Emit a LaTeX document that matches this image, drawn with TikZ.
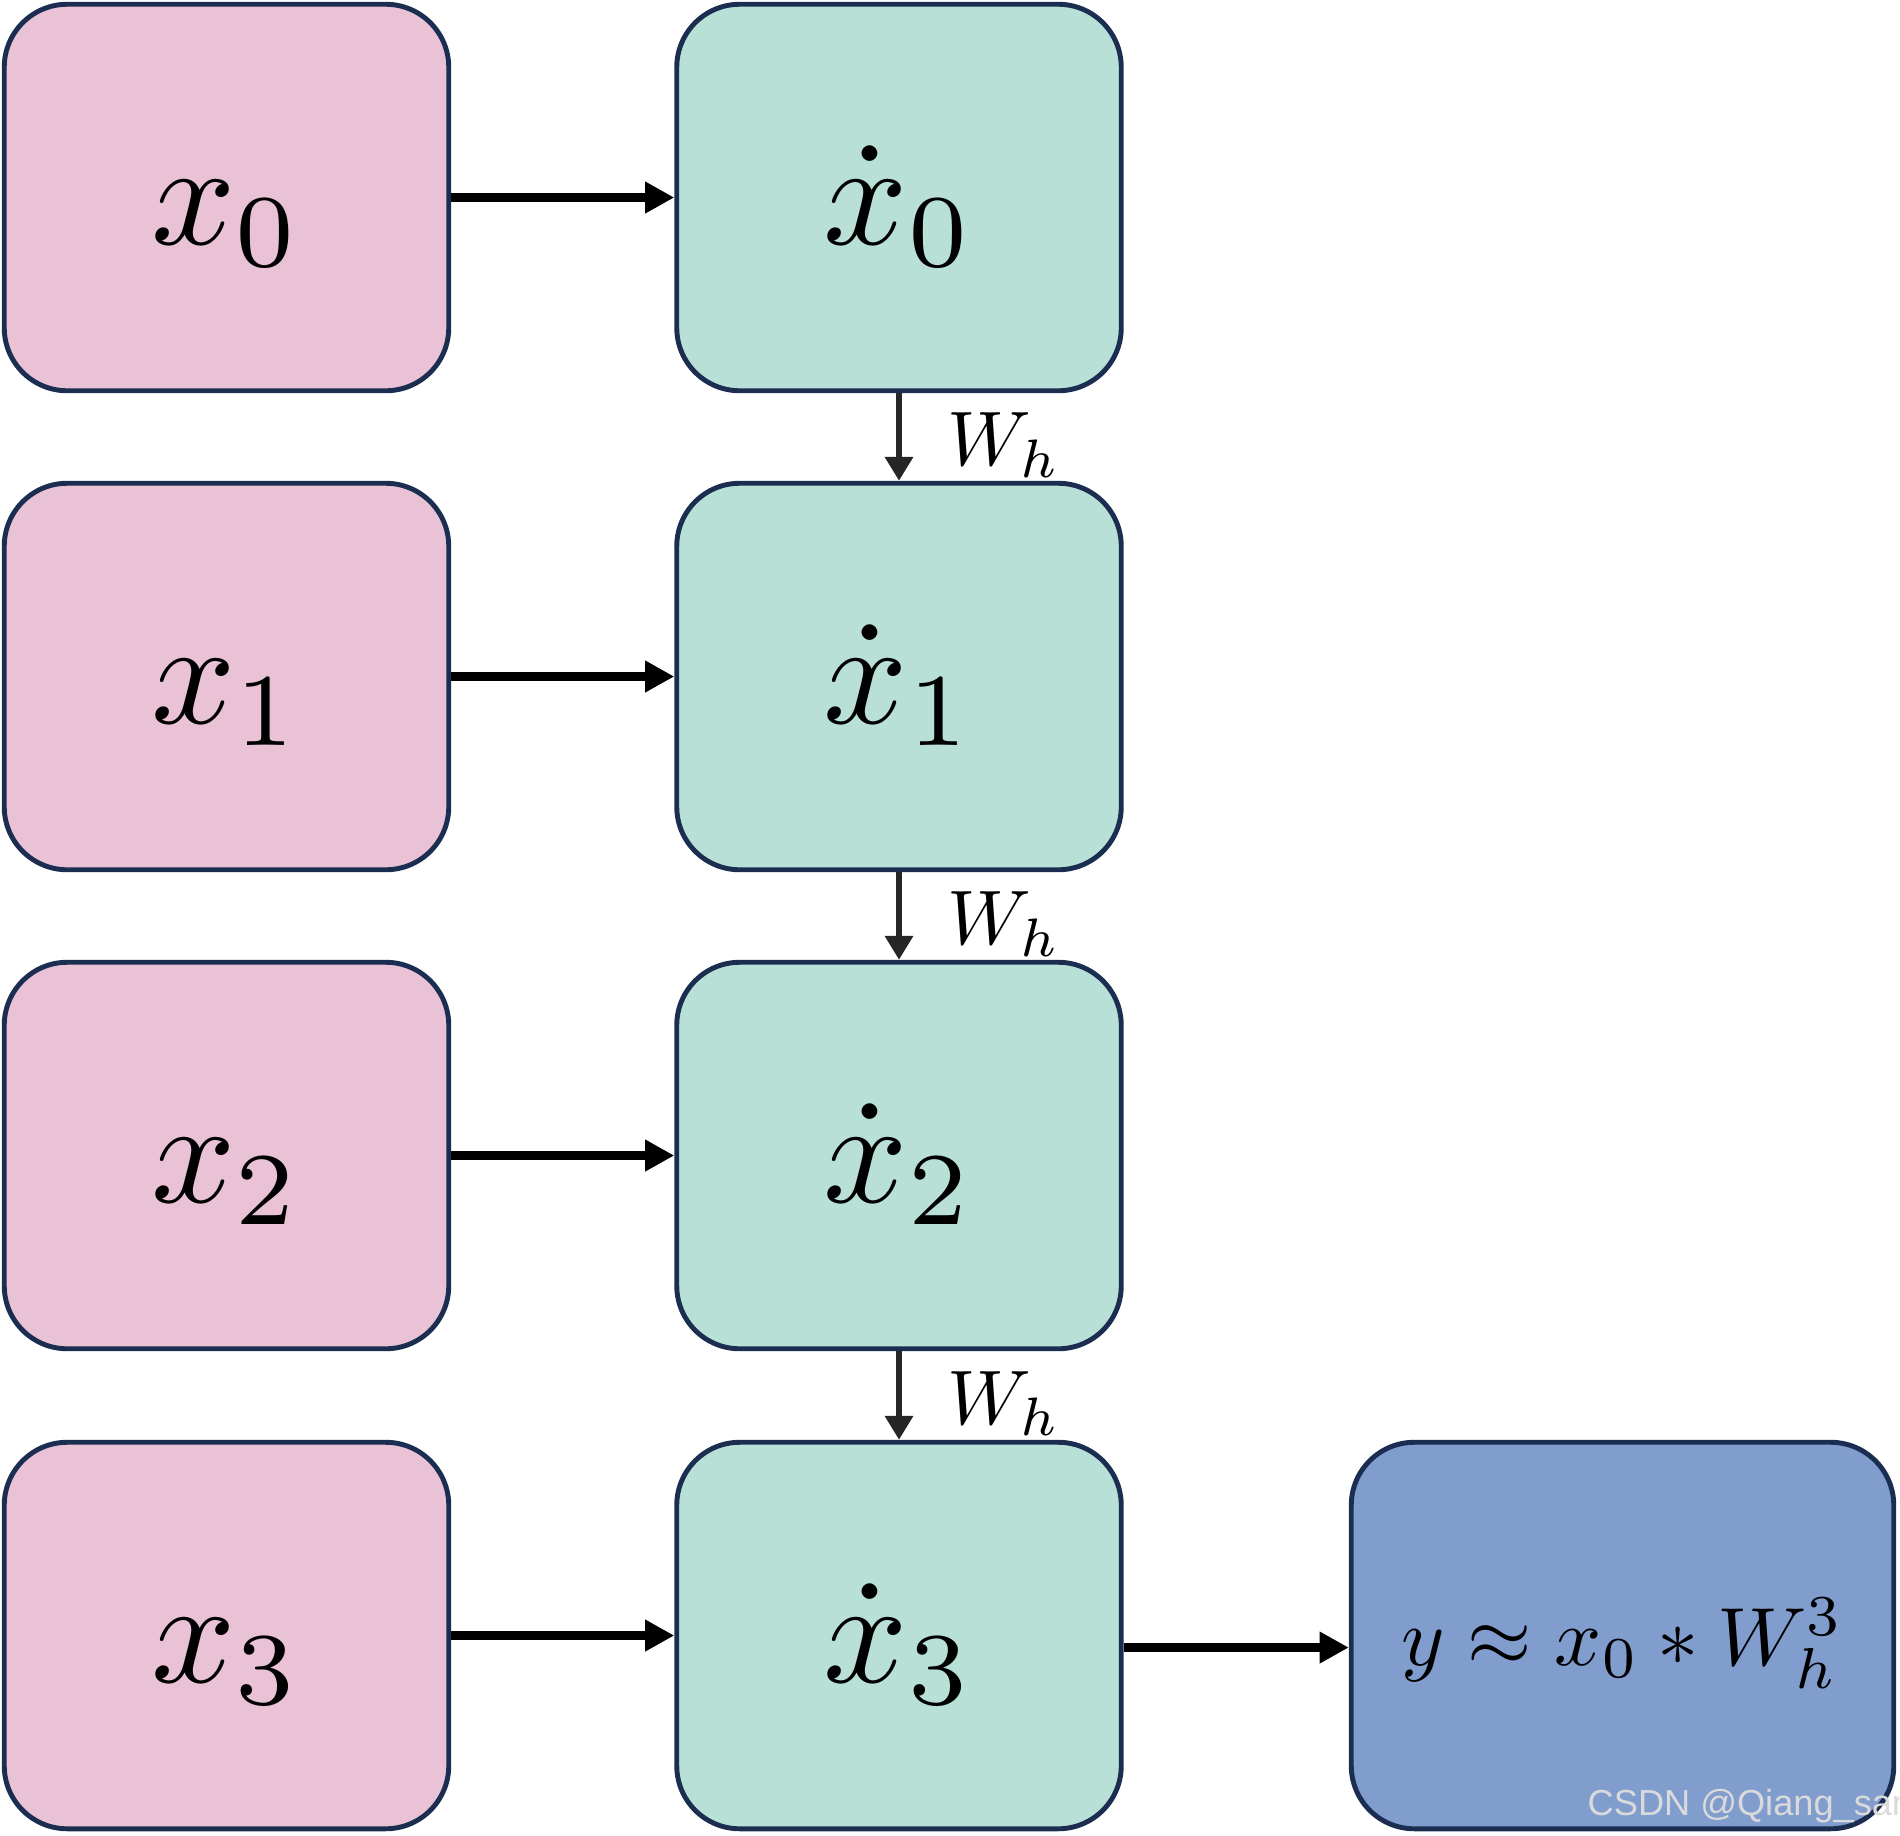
\documentclass[tikz,border=0pt]{standalone}
\usepackage{amsmath}
\usepackage{graphicx}
\usepackage{fontspec}
\newfontfamily\wmfont{Liberation Sans}
\usetikzlibrary{arrows.meta,positioning}
\definecolor{inpink}{RGB}{233,195,213}
\definecolor{hidteal}{RGB}{184,224,214}
\definecolor{outblue}{RGB}{128,157,206}
\definecolor{edgenavy}{RGB}{27,46,82}
\definecolor{darkarr}{RGB}{38,38,38}
\definecolor{wmgray}{RGB}{218,218,218}
\newcommand{\cellm}[1]{\scalebox{4.2}{$#1$}}

\begin{document}
\begin{tikzpicture}[
box/.style={draw=edgenavy,line width=1.4pt,rounded corners=0.63cm,minimum width=4.445cm,minimum height=3.865cm,
  text height=1.05cm,text depth=0.11cm,inner sep=0pt},
arr/.style={-{Triangle[length=8.3pt,width=8.5pt]},line width=2.6pt},
warr/.style={-{Triangle[length=6.8pt,width=7.7pt]},line width=1.9pt,draw=darkarr},
wlab/.style={right,inner sep=0pt,xshift=0.45cm,yshift=-0.08cm}]
\useasboundingbox (0,0) rectangle (19,-18.35);
\node[box,fill=inpink] (in0) at (2.265,-1.975) {\cellm{x_0}};
\node[box,fill=inpink] (in1) at (2.265,-6.765) {\cellm{x_1}};
\node[box,fill=inpink] (in2) at (2.265,-11.555) {\cellm{x_2}};
\node[box,fill=inpink] (in3) at (2.265,-16.355) {\cellm{x_3}};
\node[box,fill=hidteal] (h0) at (8.99,-1.975) {\cellm{\dot{x}_0}};
\node[box,fill=hidteal] (h1) at (8.99,-6.765) {\cellm{\dot{x}_1}};
\node[box,fill=hidteal] (h2) at (8.99,-11.555) {\cellm{\dot{x}_2}};
\node[box,fill=hidteal] (h3) at (8.99,-16.355) {\cellm{\dot{x}_3}};
\node[box,fill=outblue,minimum width=5.425cm,text height=0.7cm,text depth=0.1cm]
  (out) at (16.225,-16.355) {\scalebox{2.35}{$y\approx x_0*W_h^3$}};
\draw[arr] (in0)--(h0);
\draw[arr] (in1)--(h1);
\draw[arr] (in2)--(h2);
\draw[arr] (in3)--(h3);
\draw[warr] (h0)--node[wlab]{\scalebox{2.2}{$W_h$}}(h1);
\draw[warr] (h1)--node[wlab]{\scalebox{2.2}{$W_h$}}(h2);
\draw[warr] (h2)--node[wlab]{\scalebox{2.2}{$W_h$}}(h3);
\draw[arr] ([yshift=-1.2mm]h3.east)--([yshift=-1.2mm]out.west);
% watermark
\node[anchor=base west,inner sep=0pt,text=wmgray,font=\wmfont\fontsize{10.3}{12}\selectfont] (wm) at (15.87,-18.15) {CSDN @Qiang\_san};
\end{tikzpicture}
\end{document}
